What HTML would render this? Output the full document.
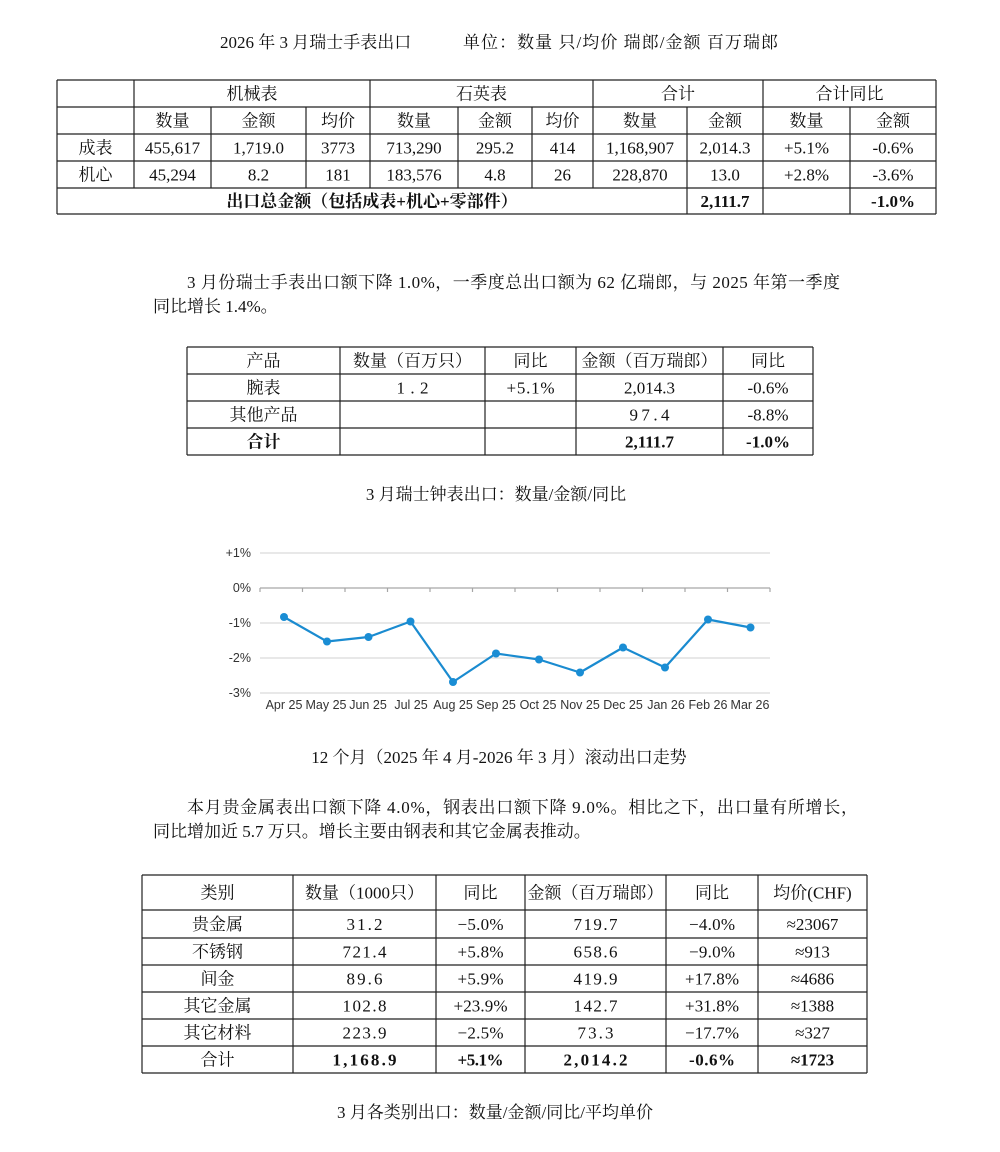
<!DOCTYPE html>
<html><head><meta charset="utf-8"><style>
html,body{margin:0;padding:0;background:#fff;}
svg{display:block;}
.s{font-family:"Liberation Serif","Noto Serif CJK SC",serif;font-size:17px;fill:#111;}
.c{text-anchor:middle;}
.b{font-weight:bold;}
.a{font-family:"Liberation Sans",sans-serif;font-size:12.5px;fill:#333;}
.ln line{stroke:#222;stroke-width:1.2;}
</style></head><body>
<svg width="1000" height="1152" viewBox="0 0 1000 1152" xmlns="http://www.w3.org/2000/svg">
<rect width="1000" height="1152" fill="#fff"/>

<!-- Title -->
<text class="s" x="220" y="48">2026 年 3 月瑞士手表出口</text>
<text class="s" x="463" y="48" textLength="315" lengthAdjust="spacing">单位：数量 只/均价 瑞郎/金额 百万瑞郎</text>

<!-- Table 1 -->
<g class="ln">
<line x1="57" y1="80" x2="936" y2="80"/>
<line x1="57" y1="107" x2="936" y2="107"/>
<line x1="57" y1="134" x2="936" y2="134"/>
<line x1="57" y1="161" x2="936" y2="161"/>
<line x1="57" y1="188" x2="936" y2="188"/>
<line x1="57" y1="214" x2="936" y2="214"/>
<line x1="57" y1="80" x2="57" y2="214"/>
<line x1="936" y1="80" x2="936" y2="214"/>
<line x1="134" y1="80" x2="134" y2="188"/>
<line x1="211" y1="107" x2="211" y2="188"/>
<line x1="306" y1="107" x2="306" y2="188"/>
<line x1="370" y1="80" x2="370" y2="188"/>
<line x1="458" y1="107" x2="458" y2="188"/>
<line x1="532" y1="107" x2="532" y2="188"/>
<line x1="593" y1="80" x2="593" y2="188"/>
<line x1="687" y1="107" x2="687" y2="214"/>
<line x1="763" y1="80" x2="763" y2="214"/>
<line x1="850" y1="107" x2="850" y2="214"/>
</g>
<g class="s c">
<text x="252" y="99.5">机械表</text>
<text x="481.5" y="99.5">石英表</text>
<text x="678" y="99.5">合计</text>
<text x="849.5" y="99.5">合计同比</text>

<text x="172.5" y="126.5">数量</text>
<text x="258.5" y="126.5">金额</text>
<text x="338" y="126.5">均价</text>
<text x="414" y="126.5">数量</text>
<text x="495" y="126.5">金额</text>
<text x="562.5" y="126.5">均价</text>
<text x="640" y="126.5">数量</text>
<text x="725" y="126.5">金额</text>
<text x="806.5" y="126.5">数量</text>
<text x="893" y="126.5">金额</text>

<text x="95.5" y="153.5">成表</text>
<text x="172.5" y="153.5">455,617</text>
<text x="258.5" y="153.5">1,719.0</text>
<text x="338" y="153.5">3773</text>
<text x="414" y="153.5">713,290</text>
<text x="495" y="153.5">295.2</text>
<text x="562.5" y="153.5">414</text>
<text x="640" y="153.5">1,168,907</text>
<text x="725" y="153.5">2,014.3</text>
<text x="806.5" y="153.5">+5.1%</text>
<text x="893" y="153.5">-0.6%</text>

<text x="95.5" y="180.5">机心</text>
<text x="172.5" y="180.5">45,294</text>
<text x="258.5" y="180.5">8.2</text>
<text x="338" y="180.5">181</text>
<text x="414" y="180.5">183,576</text>
<text x="495" y="180.5">4.8</text>
<text x="562.5" y="180.5">26</text>
<text x="640" y="180.5">228,870</text>
<text x="725" y="180.5">13.0</text>
<text x="806.5" y="180.5">+2.8%</text>
<text x="893" y="180.5">-3.6%</text>

<text class="b" x="372" y="207">出口总金额（包括成表+机心+零部件）</text>
<text class="b" x="725" y="207">2,111.7</text>
<text class="b" x="893" y="207">-1.0%</text>
</g>

<!-- Paragraph 1 -->
<text class="s" x="187" y="288" textLength="653" lengthAdjust="spacing">3 月份瑞士手表出口额下降 1.0%，一季度总出口额为 62 亿瑞郎，与 2025 年第一季度</text>
<text class="s" x="153" y="312">同比增长 1.4%。</text>

<!-- Table 2 -->
<g class="ln">
<line x1="187" y1="347" x2="813" y2="347"/>
<line x1="187" y1="374" x2="813" y2="374"/>
<line x1="187" y1="401" x2="813" y2="401"/>
<line x1="187" y1="428" x2="813" y2="428"/>
<line x1="187" y1="455" x2="813" y2="455"/>
<line x1="187" y1="347" x2="187" y2="455"/>
<line x1="340" y1="347" x2="340" y2="455"/>
<line x1="485" y1="347" x2="485" y2="455"/>
<line x1="576" y1="347" x2="576" y2="455"/>
<line x1="723" y1="347" x2="723" y2="455"/>
<line x1="813" y1="347" x2="813" y2="455"/>
</g>
<g class="s c">
<text x="263.5" y="366.5">产品</text>
<text x="412.5" y="366.5">数量（百万只）</text>
<text x="530.5" y="366.5">同比</text>
<text x="649.5" y="366.5">金额（百万瑞郎）</text>
<text x="768" y="366.5">同比</text>

<text x="263.5" y="393.5">腕表</text>
<text x="412.5" y="393.5" textLength="32" lengthAdjust="spacing">1.2</text>
<text x="530.5" y="393.5" textLength="48" lengthAdjust="spacing">+5.1%</text>
<text x="649.5" y="393.5">2,014.3</text>
<text x="768" y="393.5">-0.6%</text>

<text x="263.5" y="420.5">其他产品</text>
<text x="649.5" y="420.5" textLength="40" lengthAdjust="spacing">97.4</text>
<text x="768" y="420.5">-8.8%</text>

<text class="b" x="263.5" y="447.5">合计</text>
<text class="b" x="649.5" y="447.5">2,111.7</text>
<text class="b" x="768" y="447.5">-1.0%</text>
</g>

<text class="s c" x="496" y="500">3 月瑞士钟表出口：数量/金额/同比</text>

<!-- Chart -->
<g stroke="#d9d9d9" stroke-width="1.2">
<line x1="260" y1="553" x2="770" y2="553"/>
<line x1="260" y1="623" x2="770" y2="623"/>
<line x1="260" y1="658" x2="770" y2="658"/>
<line x1="260" y1="693" x2="770" y2="693"/>
</g>
<g stroke="#a6a6a6" stroke-width="1.2">
<line x1="260" y1="588" x2="770" y2="588"/>
<line x1="260" y1="588" x2="260" y2="592"/>
<line x1="302.5" y1="588" x2="302.5" y2="592"/>
<line x1="345" y1="588" x2="345" y2="592"/>
<line x1="387.5" y1="588" x2="387.5" y2="592"/>
<line x1="430" y1="588" x2="430" y2="592"/>
<line x1="472.5" y1="588" x2="472.5" y2="592"/>
<line x1="515" y1="588" x2="515" y2="592"/>
<line x1="557.5" y1="588" x2="557.5" y2="592"/>
<line x1="600" y1="588" x2="600" y2="592"/>
<line x1="642.5" y1="588" x2="642.5" y2="592"/>
<line x1="685" y1="588" x2="685" y2="592"/>
<line x1="727.5" y1="588" x2="727.5" y2="592"/>
<line x1="770" y1="588" x2="770" y2="592"/>
</g>
<g class="a" text-anchor="end">
<text x="251" y="557">+1%</text>
<text x="251" y="592">0%</text>
<text x="251" y="627">-1%</text>
<text x="251" y="662">-2%</text>
<text x="251" y="697">-3%</text>
</g>
<g class="a" text-anchor="middle">
<text x="284" y="709">Apr 25</text>
<text x="326" y="709">May 25</text>
<text x="368" y="709">Jun 25</text>
<text x="411" y="709">Jul 25</text>
<text x="453" y="709">Aug 25</text>
<text x="496" y="709">Sep 25</text>
<text x="538" y="709">Oct 25</text>
<text x="580" y="709">Nov 25</text>
<text x="623" y="709">Dec 25</text>
<text x="666" y="709">Jan 26</text>
<text x="708" y="709">Feb 26</text>
<text x="750" y="709">Mar 26</text>
</g>
<polyline fill="none" stroke="#1a8bd0" stroke-width="2.2" stroke-linejoin="round"
 points="284,617 327,641.5 368.5,637 410.5,621.5 453,682 496,653.5 539,659.5 580,672.5 623,647.5 665,667.5 708,619.5 750.5,627.5"/>
<g fill="#1a8dd4">
<circle cx="284" cy="617" r="4"/>
<circle cx="327" cy="641.5" r="4"/>
<circle cx="368.5" cy="637" r="4"/>
<circle cx="410.5" cy="621.5" r="4"/>
<circle cx="453" cy="682" r="4"/>
<circle cx="496" cy="653.5" r="4"/>
<circle cx="539" cy="659.5" r="4"/>
<circle cx="580" cy="672.5" r="4"/>
<circle cx="623" cy="647.5" r="4"/>
<circle cx="665" cy="667.5" r="4"/>
<circle cx="708" cy="619.5" r="4"/>
<circle cx="750.5" cy="627.5" r="4"/>
</g>

<text class="s c" x="499" y="763">12 个月（2025 年 4 月-2026 年 3 月）滚动出口走势</text>

<!-- Paragraph 2 -->
<text class="s" x="187" y="813" textLength="671" lengthAdjust="spacing">本月贵金属表出口额下降 4.0%，钢表出口额下降 9.0%。相比之下，出口量有所增长，</text>
<text class="s" x="153" y="837">同比增加近 5.7 万只。增长主要由钢表和其它金属表推动。</text>

<!-- Table 3 -->
<g class="ln">
<line x1="142" y1="875" x2="867" y2="875"/>
<line x1="142" y1="910" x2="867" y2="910"/>
<line x1="142" y1="938" x2="867" y2="938"/>
<line x1="142" y1="965" x2="867" y2="965"/>
<line x1="142" y1="992" x2="867" y2="992"/>
<line x1="142" y1="1019" x2="867" y2="1019"/>
<line x1="142" y1="1046" x2="867" y2="1046"/>
<line x1="142" y1="1073" x2="867" y2="1073"/>
<line x1="142" y1="875" x2="142" y2="1073"/>
<line x1="293" y1="875" x2="293" y2="1073"/>
<line x1="436" y1="875" x2="436" y2="1073"/>
<line x1="525" y1="875" x2="525" y2="1073"/>
<line x1="666" y1="875" x2="666" y2="1073"/>
<line x1="758" y1="875" x2="758" y2="1073"/>
<line x1="867" y1="875" x2="867" y2="1073"/>
</g>
<g class="s c">
<text x="217.5" y="898.5">类别</text>
<text x="364.5" y="898.5">数量（1000只）</text>
<text x="480.5" y="898.5">同比</text>
<text x="595.5" y="898.5">金额（百万瑞郎）</text>
<text x="712" y="898.5">同比</text>
<text x="812.5" y="898.5">均价(CHF)</text>

<text x="217.5" y="930">贵金属</text>
<text x="364.5" y="930" textLength="36" lengthAdjust="spacing">31.2</text>
<text x="480.5" y="930" textLength="46" lengthAdjust="spacing">−5.0%</text>
<text x="595.5" y="930" textLength="44" lengthAdjust="spacing">719.7</text>
<text x="712" y="930" textLength="46" lengthAdjust="spacing">−4.0%</text>
<text x="812.5" y="930">≈23067</text>

<text x="217.5" y="957.5">不锈钢</text>
<text x="364.5" y="957.5" textLength="44" lengthAdjust="spacing">721.4</text>
<text x="480.5" y="957.5" textLength="46" lengthAdjust="spacing">+5.8%</text>
<text x="595.5" y="957.5" textLength="44" lengthAdjust="spacing">658.6</text>
<text x="712" y="957.5" textLength="46" lengthAdjust="spacing">−9.0%</text>
<text x="812.5" y="957.5">≈913</text>

<text x="217.5" y="984.5">间金</text>
<text x="364.5" y="984.5" textLength="36" lengthAdjust="spacing">89.6</text>
<text x="480.5" y="984.5" textLength="46" lengthAdjust="spacing">+5.9%</text>
<text x="595.5" y="984.5" textLength="44" lengthAdjust="spacing">419.9</text>
<text x="712" y="984.5" textLength="54" lengthAdjust="spacing">+17.8%</text>
<text x="812.5" y="984.5">≈4686</text>

<text x="217.5" y="1011.5">其它金属</text>
<text x="364.5" y="1011.5" textLength="44" lengthAdjust="spacing">102.8</text>
<text x="480.5" y="1011.5" textLength="54" lengthAdjust="spacing">+23.9%</text>
<text x="595.5" y="1011.5" textLength="44" lengthAdjust="spacing">142.7</text>
<text x="712" y="1011.5" textLength="54" lengthAdjust="spacing">+31.8%</text>
<text x="812.5" y="1011.5">≈1388</text>

<text x="217.5" y="1038.5">其它材料</text>
<text x="364.5" y="1038.5" textLength="44" lengthAdjust="spacing">223.9</text>
<text x="480.5" y="1038.5" textLength="46" lengthAdjust="spacing">−2.5%</text>
<text x="595.5" y="1038.5" textLength="36" lengthAdjust="spacing">73.3</text>
<text x="712" y="1038.5" textLength="54" lengthAdjust="spacing">−17.7%</text>
<text x="812.5" y="1038.5">≈327</text>

<text x="217.5" y="1065.5">合计</text>
<text class="b" x="364.5" y="1065.5" textLength="64" lengthAdjust="spacing">1,168.9</text>
<text class="b" x="480.5" y="1065.5" textLength="46" lengthAdjust="spacing">+5.1%</text>
<text class="b" x="595.5" y="1065.5" textLength="64" lengthAdjust="spacing">2,014.2</text>
<text class="b" x="712" y="1065.5" textLength="46" lengthAdjust="spacing">-0.6%</text>
<text class="b" x="812.5" y="1065.5">≈1723</text>
</g>

<text class="s c" x="495" y="1118">3 月各类别出口：数量/金额/同比/平均单价</text>
</svg>
</body></html>
